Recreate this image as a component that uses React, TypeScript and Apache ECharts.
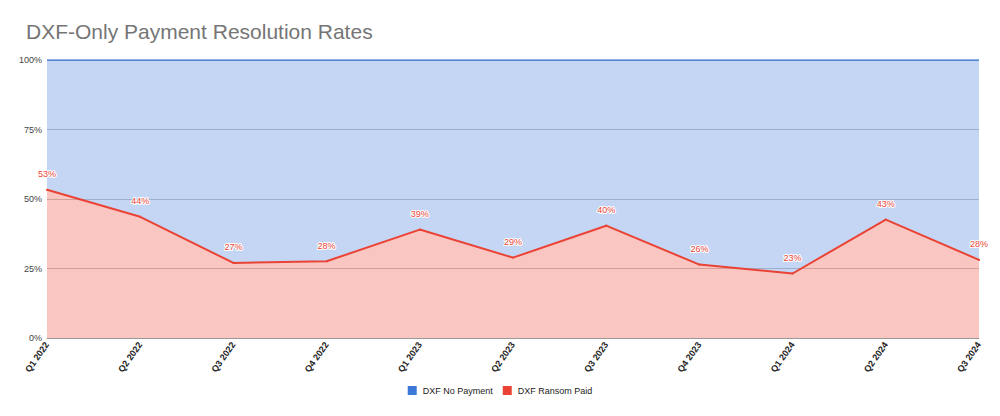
import React, { useEffect, useRef } from "react";
import * as echarts from "echarts";

const categories = [
  "Q1 2022", "Q2 2022", "Q3 2022", "Q4 2022", "Q1 2023", "Q2 2023",
  "Q3 2023", "Q4 2023", "Q1 2024", "Q2 2024", "Q3 2024",
];
const ransomPaid = [53.3, 43.6, 27.0, 27.6, 39.0, 28.9, 40.4, 26.4, 23.2, 42.6, 28.1];
const noPayment = [46.7, 56.4, 73.0, 72.4, 61.0, 71.1, 59.6, 73.6, 76.8, 57.4, 71.9];
const yTicks = [0, 25, 50, 75, 100];

export default function App() {
  const ref = useRef<HTMLDivElement>(null);
  useEffect(() => {
    if (!ref.current) return;
    const chart = echarts.init(ref.current, null, { renderer: "svg" });
    chart.setOption({
      animation: false,
      backgroundColor: "#ffffff",
      title: {
        text: "DXF-Only Payment Resolution Rates",
        left: 21,
        top: 16,
        textStyle: { fontFamily: "Liberation Sans, Arial, sans-serif", fontSize: 21, fontWeight: "normal", color: "#757575" },
      },
      legend: {
        data: ["DXF No Payment", "DXF Ransom Paid"],
        bottom: 16,
        left: "center",
        icon: "rect",
        itemWidth: 9,
        itemHeight: 9,
        itemGap: 10,
        textStyle: { fontFamily: "Liberation Sans, Arial, sans-serif", fontSize: 9, color: "#222", padding: [0, 0, 0, 1] },
      },
      grid: { left: 47, right: 21, top: 60, bottom: 78 },
      xAxis: {
        type: "category",
        data: categories,
        boundaryGap: false,
        axisLine: { lineStyle: { color: "#999", width: 1 } },
        axisTick: { show: false },
        axisLabel: {
          rotate: 55,
          interval: 0,
          fontFamily: "Liberation Sans, Arial, sans-serif",
          fontSize: 9,
          fontWeight: "bold",
          color: "#222",
          margin: 5,
        },
        splitLine: { show: false },
      },
      yAxis: {
        type: "value",
        min: yTicks[0],
        max: yTicks[yTicks.length - 1],
        interval: 25,
        axisLine: { show: false },
        axisTick: { show: false },
        axisLabel: {
          formatter: (v: number) => v + "%",
          fontFamily: "Liberation Sans, Arial, sans-serif",
          fontSize: 9,
          color: "#444",
          margin: 5,
        },
        splitLine: { lineStyle: { color: "#c8c8c8", width: 1 } },
      },
      series: [
        {
          name: "DXF Ransom Paid",
          type: "line",
          stack: "total",
          data: ransomPaid,
          color: "#ea4335",
          symbol: "circle",
          symbolSize: 2,
          showSymbol: true,
          itemStyle: { color: "#ea4335" },
          lineStyle: { color: "#ea4335", width: 2 },
          areaStyle: { color: "#ea4335", opacity: 0.3 },
          label: {
            show: true,
            position: "top",
            distance: 10,
            formatter: (p: any) => Math.round(p.value) + "%",
            fontFamily: "Liberation Sans, Arial, sans-serif",
            fontSize: 9,
            color: "#ea4335",
            textBorderColor: "#ffffff",
            textBorderWidth: 2,
          },
          labelLayout: { hideOverlap: false },
          z: 3,
        },
        {
          name: "DXF No Payment",
          type: "line",
          stack: "total",
          data: noPayment,
          color: "#3c78d8",
          symbol: "none",
          lineStyle: { color: "#3c78d8", width: 1.5 },
          areaStyle: { color: "#3c78d8", opacity: 0.3 },
          z: 2,
        },
      ],
    });
    return () => chart.dispose();
  }, []);
  return (
    <div
      ref={ref}
      style={{ position: "fixed", left: 0, top: 0, width: 1000, height: 416 }}
    />
  );
}
